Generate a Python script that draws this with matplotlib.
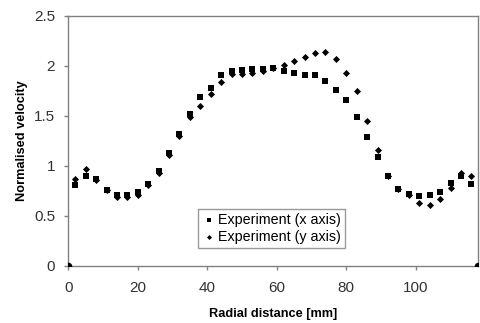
import numpy as np
import matplotlib
matplotlib.use("Agg")
import matplotlib.pyplot as plt

plt.rcParams['font.family'] = ['Liberation Sans', 'DejaVu Sans']

# --- data ---
radial = [2, 5, 8, 11, 14, 17, 20, 23, 26, 29, 32, 35, 38, 41, 44, 47, 50, 53, 56, 59,
          62, 65, 68, 71, 74, 77, 80, 83, 86, 89, 92, 95, 98, 101, 104, 107, 110, 113, 116]
vel_x = [0.81, 0.90, 0.87, 0.76, 0.71, 0.71, 0.74, 0.82, 0.95, 1.13, 1.32, 1.52, 1.69, 1.78,
         1.91, 1.95, 1.96, 1.97, 1.97, 1.98, 1.95, 1.93, 1.91, 1.91, 1.85, 1.76, 1.66, 1.49,
         1.29, 1.09, 0.90, 0.77, 0.72, 0.70, 0.71, 0.74, 0.83, 0.90, 0.82]
vel_y = [0.87, 0.97, 0.86, 0.76, 0.69, 0.69, 0.71, 0.81, 0.93, 1.11, 1.30, 1.49, 1.60, 1.72,
         1.84, 1.92, 1.92, 1.93, 1.95, 1.98, 2.01, 2.05, 2.09, 2.13, 2.14, 2.07, 1.93, 1.75,
         1.45, 1.16, 0.90, 0.77, 0.71, 0.63, 0.61, 0.67, 0.78, 0.93, 0.90]
# wall points at both ends
wall_x = [0, 118]
wall_v = [0, 0]

x_ticks = [0, 20, 40, 60, 80, 100]
y_ticks = [0, 0.5, 1, 1.5, 2, 2.5]

fig = plt.figure(figsize=(4.8, 3.23), dpi=100)
ax = fig.add_axes([0.1423, 0.1765, 0.8542, 0.7749])

ax.scatter(radial, vel_x, marker='s', s=24, color='black', linewidths=0,
           label='Experiment (x axis)', zorder=3)
ax.scatter(radial, vel_y, marker='D', s=13, color='black', linewidths=0,
           label='Experiment (y axis)', zorder=3)
ax.scatter(wall_x, wall_v, marker='o', s=30, color='black', linewidths=0, zorder=4)

ax.set_xlim(0, 118)
ax.set_ylim(0, 2.5)
ax.set_xticks(x_ticks)
ax.set_yticks(y_ticks)
ax.set_yticklabels(['0', '0.5', '1', '1.5', '2', '2.5'])

for s in ax.spines.values():
    s.set_color('#808080')
    s.set_linewidth(1.0)
ax.tick_params(direction='out', length=3, width=1, color='#808080',
               labelsize=11, labelcolor='#333333')
ax.tick_params(axis='x', pad=8)
ax.tick_params(axis='y', pad=6.5)

ax.set_xlabel('Radial distance [mm]', fontsize=9.2, fontweight='bold', labelpad=9)
ax.set_ylabel('Normalised velocity', fontsize=9.2, fontweight='bold', labelpad=4)

leg = ax.legend(loc='lower left', bbox_to_anchor=(0.316, 0.071, 0.36, 0.17),
                mode='expand', fontsize=10.3, frameon=True, fancybox=False,
                borderpad=0.3, handletextpad=0.1, labelspacing=0.2,
                handlelength=1.0, borderaxespad=0, markerscale=0.7)
leg.get_frame().set_edgecolor('#808080')
leg.get_frame().set_linewidth(1.0)

fig.savefig('out.png', dpi=100)
